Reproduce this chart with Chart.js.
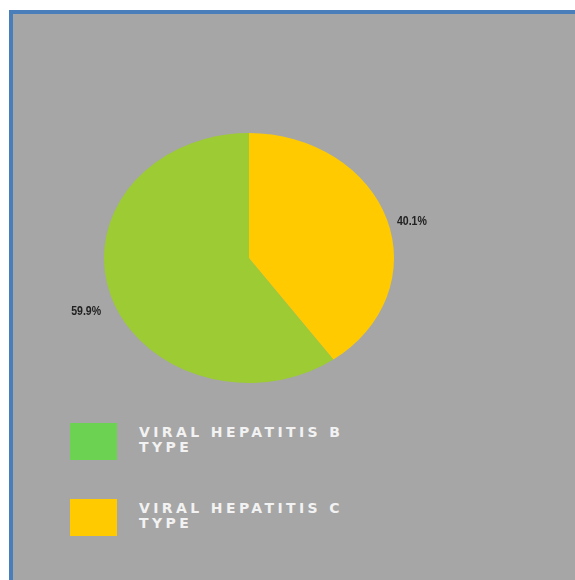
<!DOCTYPE html>
<html>
<head>
<meta charset="utf-8">
<script src="https://cdn.jsdelivr.net/npm/chart.js@4.4.1/dist/chart.umd.min.js"></script>
<style>
    html, body { margin: 0; padding: 0; background: #ffffff; }
    #frame {
        position: absolute;
        left: 9px; top: 10px;
        width: 562px; height: 566px;
        background: #a6a6a6;
        border-top: 4px solid #4a7ebb;
        border-left: 4px solid #4a7ebb;
    }
    #chart { position: absolute; left: 0; top: 0; }
    .legend-box { position: absolute; width: 47px; height: 37px; }
    .legend-text {
        position: absolute;
        width: 225px;
        font-family: "DejaVu Sans", "Open Sans", sans-serif;
        font-weight: 600;
        font-size: 14px;
        line-height: 15px;
        letter-spacing: 3.4px;
        color: #f2f2f2;
    }
</style>
</head>
<body>
<div id="frame"></div>
<canvas id="chart" width="575" height="400"></canvas>
<div id="legend"></div>

<script>
// categories and shares (percent)
const categories = ['VIRAL HEPATITIS B TYPE', 'VIRAL HEPATITIS C TYPE'];
const shares = [59.9, 40.1];

// slice fills and legend swatches
const sliceColors = ['#9ccb34', '#ffcb00'];
const legendColors = ['#6cd352', '#ffcb00'];

// pie is drawn wider than tall
const stretchX = 1.16;

// squash the arcs into an ellipse around the pie centre
const stretchPlugin = {
    id: 'stretch',
    beforeDatasetsDraw(chart) {
        const arc = chart.getDatasetMeta(0).data[0];
        const ctx = chart.ctx;
        ctx.save();
        ctx.translate(arc.x, 0);
        ctx.scale(stretchX, 1);
        ctx.translate(-arc.x, 0);
    },
    afterDatasetsDraw(chart) {
        chart.ctx.restore();
    }
};

// percent labels just outside each slice
const outerLabels = {
    id: 'outerLabels',
    afterDraw(chart) {
        const ctx = chart.ctx;
        const meta = chart.getDatasetMeta(0);
        ctx.save();
        ctx.font = 'bold 12px "Liberation Sans", Arial, sans-serif';
        ctx.fillStyle = '#222222';
        ctx.textAlign = 'center';
        ctx.textBaseline = 'middle';
        meta.data.forEach((arc, i) => {
            const mid = (arc.startAngle + arc.endAngle) / 2;
            const r = arc.outerRadius * 1.18;
            const x = arc.x + Math.cos(mid) * r * stretchX;
            const y = arc.y + Math.sin(mid) * r + 9;
            ctx.save();
            ctx.translate(x, y);
            ctx.scale(0.88, 1);   // narrow face
            ctx.fillText(shares[i].toFixed(1) + '%', 0, 0);
            ctx.restore();
        });
        ctx.restore();
    }
};

const ctx = document.getElementById('chart').getContext('2d');
new Chart(ctx, {
    type: 'pie',
    data: {
        labels: categories,
        datasets: [{
            data: shares,
            backgroundColor: sliceColors,
            borderWidth: 0
        }]
    },
    options: {
        responsive: false,
        animation: false,
        rotation: shares[1] * 3.6,   // C slice sits at 12 o'clock going clockwise
        layout: {
            padding: { top: 133, bottom: 17, left: 124, right: 201 }
        },
        plugins: {
            legend: { display: false },
            tooltip: { enabled: false }
        }
    },
    plugins: [stretchPlugin, outerLabels]
});

// legend below the pie
const legend = document.getElementById('legend');
const legendTops = [423, 499];
categories.forEach((name, i) => {
    const box = document.createElement('div');
    box.className = 'legend-box';
    box.style.left = '70px';
    box.style.top = legendTops[i] + 'px';
    box.style.background = legendColors[i];
    legend.appendChild(box);

    const text = document.createElement('div');
    text.className = 'legend-text';
    text.style.left = '139px';
    text.style.top = (legendTops[i] + 2) + 'px';
    text.textContent = name;
    legend.appendChild(text);
});
</script>
</body>
</html>
